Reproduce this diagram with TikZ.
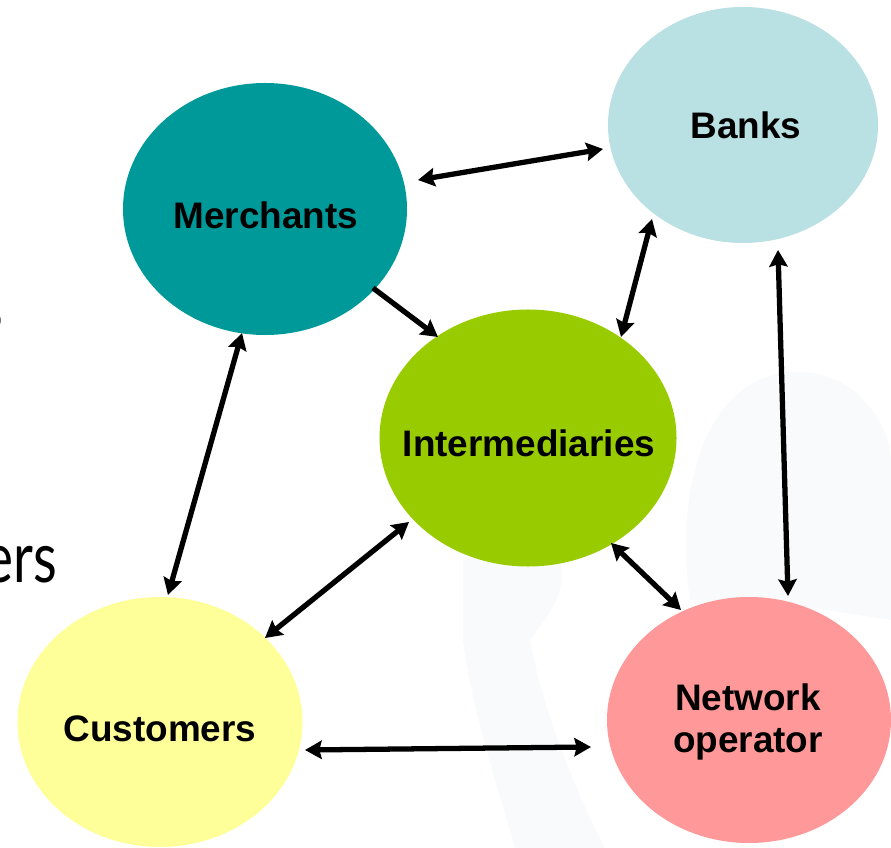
\documentclass[tikz,border=0pt]{standalone}
\usepackage{fontspec}
\setmainfont{Liberation Sans}
\newfontfamily\latofont{Lato}
\usetikzlibrary{shapes.geometric,arrows.meta}
\definecolor{merchc}{HTML}{009999}
\definecolor{bankc}{HTML}{B9E0E3}
\definecolor{interc}{HTML}{99CC00}
\definecolor{custc}{HTML}{FFFF99}
\definecolor{netc}{HTML}{FF9999}
\definecolor{ghost}{HTML}{F9FAFB}
\begin{document}
\begin{tikzpicture}[x=0.03cm,y=-0.03cm,
  blob/.style={ellipse, draw=none, inner sep=0pt},
  lbl/.style={inner sep=0pt, align=center, font=\fontsize{31.5}{36.6}\selectfont\bfseries},
  side/.style={inner sep=0pt, xscale=0.78, font=\latofont\fontsize{60}{64}\selectfont},
  arr/.style={line width=4.5pt, {Stealth[length=0.5cm,width=0.55cm,inset=0.07cm]}-{Stealth[length=0.5cm,width=0.55cm,inset=0.07cm]}},
  arrone/.style={line width=4.5pt, -{Stealth[length=0.5cm,width=0.55cm,inset=0.07cm]}}
]
\useasboundingbox (0,0) rectangle (891,848);
% faint background figure
\fill[ghost] (463,560) .. controls (500,552) and (545,550) .. (560,560)
  .. controls (570,590) and (545,620) .. (530,640)
  .. controls (545,720) and (580,800) .. (605,848)
  -- (515,848) .. controls (495,780) and (470,700) .. (463,640) -- cycle;
\fill[ghost] (690,600) .. controls (675,500) and (700,380) .. (790,372)
  .. controls (860,368) and (891,430) .. (891,460) -- (891,620) -- (760,600) -- cycle;

% side text fragments
\node[side, anchor=base east] (s1) at (3,331) {s};
\node[side, anchor=base east] (s2) at (57,582) {ers};

% ellipses
\node[blob, fill=merchc, minimum width=8.52cm, minimum height=7.56cm] (M) at (265,209) {};
\node[blob, fill=bankc,  minimum width=8.10cm, minimum height=7.08cm] (B) at (743,125) {};
\node[blob, fill=interc, minimum width=8.91cm, minimum height=7.71cm] (I) at (528,438) {};
\node[blob, fill=custc,  minimum width=8.55cm, minimum height=7.50cm] (C) at (160,722) {};
\node[blob, fill=netc,   minimum width=8.52cm, minimum height=7.38cm] (N) at (749,720) {};

% labels
\node[lbl] (Mt) at (266,215) {Merchants};
\node[lbl] (Bt) at (746,125) {Banks};
\node[lbl] (It) at (529,443) {Intermediaries};
\node[lbl] (Ct) at (160,729) {Customers};
\node[lbl] (Nt) at (748,722) {Network\\operator};

% connectors
\draw[arr] ([shift={(153,-29)}]M.center) -- ([shift={(-140,24)}]B.center);
\draw[arrone] ([shift={(108,79)}]M.center) -- ([shift={(-90,-101)}]I.center);
\draw[arr] ([shift={(-91,94)}]B.center) -- ([shift={(93,-101)}]I.center);
\draw[arr] ([shift={(35,125)}]B.center) -- ([shift={(39,-124)}]N.center);
\draw[arr] ([shift={(-23,124)}]M.center) -- ([shift={(8,-127)}]C.center);
\draw[arr] ([shift={(-119,84)}]I.center) -- ([shift={(105,-84)}]C.center);
\draw[arr] ([shift={(83,105)}]I.center) -- ([shift={(-68,-110)}]N.center);
\draw[arr] ([shift={(145,28)}]C.center) -- ([shift={(-158,27)}]N.center);
\end{tikzpicture}
\end{document}
